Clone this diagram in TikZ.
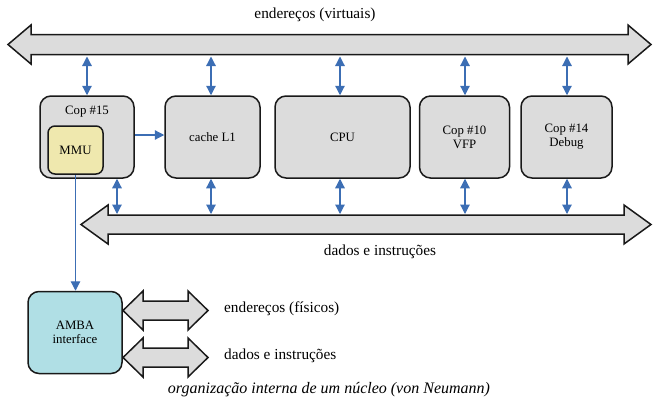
\documentclass[tikz,border=0pt]{standalone}
\usepackage{fontspec}
\setmainfont{Liberation Serif}
\usetikzlibrary{arrows.meta}
\definecolor{boxgray}{HTML}{DCDCDC}
\definecolor{mmuyellow}{HTML}{EFE8AE}
\definecolor{ambablue}{HTML}{B0DFE5}
\definecolor{linkblue}{HTML}{3C6EB4}
\newcommand\mybus[6]{% x1, x2, yc, headlen, shafthalf, headhalf
  \draw[busstyle] (#1,#3) -- (#1+#4,#3-#6) -- (#1+#4,#3-#5) -- (#2-#4,#3-#5) -- (#2-#4,#3-#6)
    -- (#2,#3) -- (#2-#4,#3+#6) -- (#2-#4,#3+#5) -- (#1+#4,#3+#5) -- (#1+#4,#3+#6) -- cycle;}
\begin{document}
\begin{tikzpicture}[x=1pt,y=-1pt,
  busstyle/.style={draw=black!90, line width=1.5pt, fill=boxgray, line join=miter},
  unit/.style={draw=black!90, line width=1.5pt, fill=boxgray, rounded corners=11pt, minimum height=82pt, inner sep=0pt, font=\fontsize{12.8}{14}\selectfont, align=center},
  link/.style={draw=linkblue, line width=1.2pt, {Triangle[length=9.5pt,width=9.5pt]}-{Triangle[length=9.5pt,width=9.5pt]}},
  onelink/.style={draw=linkblue, line width=1.2pt, -{Triangle[length=9.5pt,width=9.5pt]}},
  lbl/.style={font=\fontsize{15.3}{16}\selectfont, inner sep=0pt}]
\useasboundingbox (0,0) rectangle (657,407);
% buses
\mybus{8}{651}{44.5}{23}{10}{19.5}
\mybus{81}{651}{224.5}{27}{9.5}{19.5}
\mybus{123}{208}{310.5}{20}{9.5}{19.5}
\mybus{123}{208}{357.5}{20}{9.5}{19.5}
\node[lbl] (lva) at (315,15) {endereços (virtuais)};
\node[lbl] (ldi) at (380,251.5) {dados e instruções};
\node[lbl, anchor=west] (lfis) at (224,308.5) {endereços (físicos)};
\node[lbl, anchor=west] (ldi2) at (224,355.5) {dados e instruções};
\node[font=\fontsize{16}{17}\selectfont\itshape, inner sep=0pt] (cap) at (329,390) {organização interna de um núcleo (von Neumann)};
% units
\node[unit, minimum width=94pt] (cop15) at (87,137) {};
\node[font=\fontsize{12.8}{14}\selectfont, inner sep=0pt] (cop15t) at (87,112) {Cop \#15};
\node[unit, minimum width=55pt, minimum height=48pt, fill=mmuyellow, rounded corners=7pt] (mmu) at (75.5,150) {MMU};
\node[unit, minimum width=95pt] (cache) at (212.5,137) {cache L1};
\node[unit, minimum width=135pt] (cpu) at (342.5,137) {CPU};
\node[unit, minimum width=90pt] (vfp) at (464.5,137) {Cop \#10\\VFP};
\node[unit, minimum width=91pt] (dbg) at (566.5,137) {Cop \#14\\Debug};
\node[unit, minimum width=94pt, fill=ambablue] (amba) at (75,332.5) {AMBA\\interface};
% bus attachment points
\foreach \n/\x in {a/87,b/211,c/340,d/465,e/567}{
  \coordinate (t\n) at (\x,56.5);
  \coordinate (b\n) at (\x,214);
}
\coordinate (ta) at (87,56.5);
\coordinate (ba) at (117,214);
\draw[link] (ta) -- (cop15.north -| ta);
\draw[link] (tb) -- (cache.north -| tb);
\draw[link] (tc) -- (cpu.north -| tc);
\draw[link] (td) -- (vfp.north -| td);
\draw[link] (te) -- (dbg.north -| te);
\draw[link] (cop15.south -| ba) -- (ba);
\draw[link] (cache.south -| bb) -- (bb);
\draw[link] (cpu.south -| bc) -- (bc);
\draw[link] (vfp.south -| bd) -- (bd);
\draw[link] (dbg.south -| be) -- (be);
\draw[onelink] (cop15.east |- 0,135) -- (cache.west |- 0,135);
\draw[onelink] (mmu.south) -- (mmu.south |- amba.north);
\end{tikzpicture}
\end{document}
